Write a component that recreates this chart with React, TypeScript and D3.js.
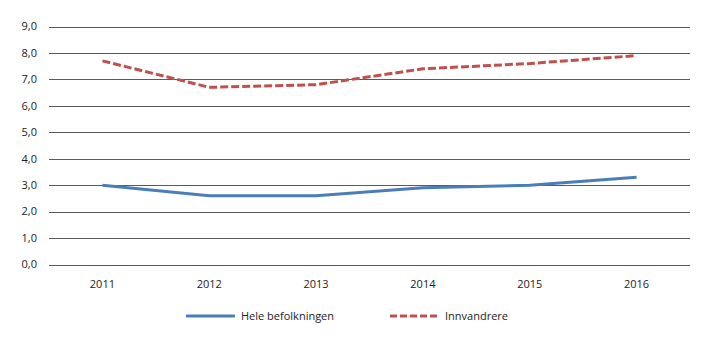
import React from "react";
import * as d3 from "d3";

const years = ["2011", "2012", "2013", "2014", "2015", "2016"];
const hele = [3.0, 2.6, 2.6, 2.9, 3.0, 3.3];
const innvandrere = [7.7, 6.7, 6.8, 7.4, 7.6, 7.9];
const yTicks = [0, 1, 2, 3, 4, 5, 6, 7, 8, 9];

const W = 720, H = 341;
const left = 49, right = 690, top = 26.5, bottom = 264.5;
const font = "'Open Sans', 'Noto Sans', sans-serif";

export default function App() {
  const x = d3.scaleBand<string>().domain(years).range([left, right]);
  const y = d3.scaleLinear().domain([0, 9]).range([bottom, top]);
  const cx = (d: string) => (x(d) as number) + x.bandwidth() / 2;
  const line = d3
    .line<number>()
    .x((_, i) => cx(years[i]))
    .y((v) => y(v))
    .curve(d3.curveLinear);
  const fmt = (v: number) => v.toFixed(1).replace(".", ",");
  return (
    <svg width={W} height={H} style={{ position: "absolute", left: 0, top: 0 }}>
      <rect width={W} height={H} fill="#fff" />
      {yTicks.map((t) => (
        <g key={t}>
          <line x1={left} x2={right} y1={Math.round(y(t)) + 0.5} y2={Math.round(y(t)) + 0.5} stroke="#5a5a5a" strokeWidth={1} />
          <text x={37} y={y(t)} dy="0.35em" textAnchor="end" fontFamily={font} fontSize={11} fill="#222">
            {fmt(t)}
          </text>
        </g>
      ))}
      {years.map((yr) => (
        <text key={yr} x={cx(yr)} y={288} textAnchor="middle" fontFamily={font} fontSize={11} fill="#222">
          {yr}
        </text>
      ))}
      <path d={line(hele) || ""} fill="none" stroke="#4a7ebb" strokeWidth={3} strokeLinejoin="round" />
      <path d={line(innvandrere) || ""} fill="none" stroke="#c0504d" strokeWidth={3} strokeDasharray="8 3" strokeLinejoin="round" />
      <line x1={186} x2={235} y1={316} y2={316} stroke="#4a7ebb" strokeWidth={3} />
      <text x={241} y={316} dy="0.35em" fontFamily={font} fontSize={11} fill="#222">Hele befolkningen</text>
      <line x1={390} x2={439} y1={316} y2={316} stroke="#c0504d" strokeWidth={3} strokeDasharray="7 3" />
      <text x={445} y={316} dy="0.35em" fontFamily={font} fontSize={11} fill="#222">Innvandrere</text>
    </svg>
  );
}
